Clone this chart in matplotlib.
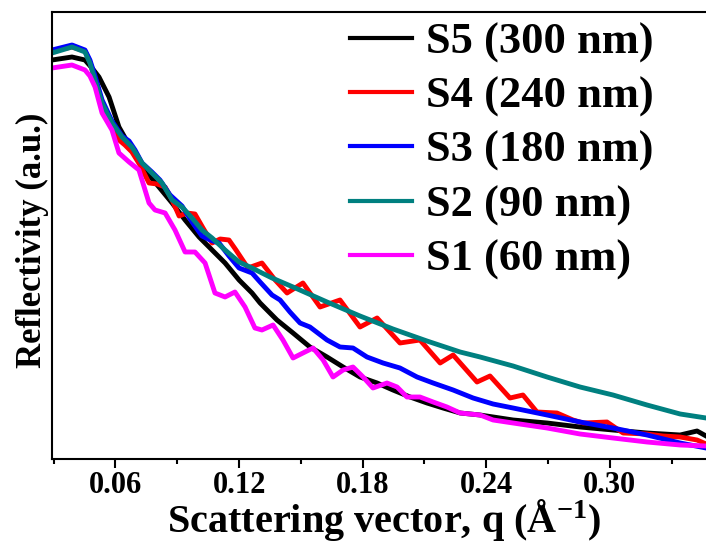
import matplotlib
matplotlib.use('Agg')
import matplotlib.pyplot as plt
from matplotlib.ticker import MultipleLocator

# reflectivity curves, q in 1/Angstrom, intensity in arbitrary units
q_s5 = [0.0292, 0.0389, 0.0452, 0.0486, 0.0520, 0.0569, 0.0617, 0.0680, 0.0743, 0.0811,
        0.0875, 0.0938, 0.1006, 0.1069, 0.1132, 0.1200, 0.1263, 0.1302, 0.1384, 0.1462,
        0.1544, 0.1627, 0.1705, 0.1787, 0.1870, 0.1947, 0.2030, 0.2112, 0.2190, 0.2273,
        0.2370, 0.2530, 0.2695, 0.2855, 0.3015, 0.3180, 0.3341, 0.3423, 0.3467]
r_s5 = [3.99, 4.02, 3.99, 3.91, 3.82, 3.62, 3.32, 3.09, 2.89, 2.72,
        2.56, 2.39, 2.22, 2.09, 1.96, 1.79, 1.66, 1.56, 1.39, 1.26,
        1.12, 1.02, 0.92, 0.82, 0.76, 0.69, 0.62, 0.56, 0.51, 0.46,
        0.44, 0.39, 0.36, 0.32, 0.29, 0.26, 0.24, 0.28, 0.23]

q_s4 = [0.0292, 0.0389, 0.0452, 0.0476, 0.0501, 0.0535, 0.0583, 0.0617, 0.0646, 0.0680,
        0.0719, 0.0763, 0.0802, 0.0841, 0.0875, 0.0909, 0.0947, 0.0986, 0.1025, 0.1069,
        0.1108, 0.1151, 0.1185, 0.1243, 0.1311, 0.1375, 0.1433, 0.1510, 0.1593, 0.1690,
        0.1787, 0.1870, 0.1981, 0.2078, 0.2176, 0.2239, 0.2355, 0.2418, 0.2515, 0.2578,
        0.2646, 0.2743, 0.2821, 0.2870, 0.2986, 0.3064, 0.3180, 0.3258, 0.3341, 0.3423,
        0.3467]
r_s4 = [4.08, 4.12, 4.08, 3.97, 3.79, 3.54, 3.32, 3.19, 3.14, 3.07,
        2.94, 2.76, 2.75, 2.72, 2.59, 2.43, 2.46, 2.45, 2.31, 2.16,
        2.20, 2.19, 2.09, 1.91, 1.96, 1.79, 1.66, 1.76, 1.52, 1.59,
        1.32, 1.41, 1.16, 1.19, 0.96, 1.04, 0.77, 0.83, 0.61, 0.64,
        0.47, 0.46, 0.39, 0.36, 0.37, 0.26, 0.25, 0.23, 0.22, 0.19,
        0.15]

q_s3 = [0.0292, 0.0389, 0.0452, 0.0476, 0.0501, 0.0535, 0.0583, 0.0632, 0.0666, 0.0695,
        0.0729, 0.0777, 0.0816, 0.0865, 0.0923, 0.0972, 0.1020, 0.1059, 0.1103, 0.1151,
        0.1200, 0.1263, 0.1302, 0.1360, 0.1399, 0.1447, 0.1496, 0.1544, 0.1627, 0.1690,
        0.1753, 0.1821, 0.1899, 0.1981, 0.2064, 0.2142, 0.2239, 0.2336, 0.2433, 0.2530,
        0.2695, 0.2855, 0.3015, 0.3180, 0.3341, 0.3467]
r_s3 = [4.09, 4.14, 4.09, 3.99, 3.83, 3.59, 3.38, 3.23, 3.18, 3.09,
        2.96, 2.87, 2.79, 2.64, 2.53, 2.37, 2.23, 2.19, 2.16, 2.03,
        1.91, 1.86, 1.77, 1.64, 1.59, 1.47, 1.36, 1.32, 1.19, 1.12,
        1.11, 1.02, 0.96, 0.91, 0.82, 0.76, 0.69, 0.61, 0.55, 0.51,
        0.44, 0.37, 0.31, 0.24, 0.16, 0.11]

q_s2 = [0.0292, 0.0389, 0.0452, 0.0476, 0.0501, 0.0535, 0.0583, 0.0632, 0.0680, 0.0729,
        0.0777, 0.0826, 0.0875, 0.0923, 0.0972, 0.1020, 0.1069, 0.1132, 0.1200, 0.1263,
        0.1311, 0.1360, 0.1462, 0.1627, 0.1787, 0.1947, 0.2112, 0.2273, 0.2370, 0.2530,
        0.2695, 0.2855, 0.3015, 0.3180, 0.3341, 0.3467]
r_s2 = [4.06, 4.12, 4.07, 3.96, 3.79, 3.56, 3.36, 3.22, 3.12, 2.96,
        2.86, 2.76, 2.59, 2.52, 2.41, 2.29, 2.21, 2.09, 1.97, 1.91,
        1.86, 1.81, 1.72, 1.57, 1.43, 1.30, 1.18, 1.07, 1.02, 0.93,
        0.82, 0.72, 0.64, 0.54, 0.45, 0.41]

q_s1 = [0.0292, 0.0389, 0.0452, 0.0476, 0.0501, 0.0535, 0.0583, 0.0617, 0.0666, 0.0714,
        0.0763, 0.0792, 0.0841, 0.0889, 0.0938, 0.0986, 0.1035, 0.1083, 0.1132, 0.1180,
        0.1229, 0.1277, 0.1311, 0.1365, 0.1413, 0.1462, 0.1510, 0.1559, 0.1608, 0.1656,
        0.1705, 0.1753, 0.1802, 0.1850, 0.1918, 0.1967, 0.2015, 0.2078, 0.2142, 0.2209,
        0.2273, 0.2370, 0.2433, 0.2530, 0.2695, 0.2855, 0.3015, 0.3180, 0.3341, 0.3467]
r_s1 = [3.91, 3.94, 3.89, 3.83, 3.72, 3.46, 3.29, 3.06, 2.97, 2.89,
        2.56, 2.49, 2.46, 2.29, 2.07, 2.07, 1.96, 1.66, 1.62, 1.67,
        1.52, 1.31, 1.29, 1.34, 1.19, 1.01, 1.06, 1.11, 0.99, 0.82,
        0.89, 0.92, 0.82, 0.71, 0.76, 0.72, 0.62, 0.62, 0.57, 0.52,
        0.46, 0.44, 0.39, 0.36, 0.31, 0.25, 0.21, 0.17, 0.14, 0.13]

labels = ['S5 (300 nm)', 'S4 (240 nm)', 'S3 (180 nm)', 'S2 (90 nm)', 'S1 (60 nm)']
colors = ['#000000', '#FF0000', '#0000FF', '#008080', '#FF00FF']

plt.rcParams['font.family'] = 'Liberation Serif'
plt.rcParams['font.weight'] = 'bold'
plt.rcParams['axes.labelweight'] = 'bold'
plt.rcParams['mathtext.fontset'] = 'custom'
plt.rcParams['mathtext.rm'] = 'Liberation Serif:bold'
plt.rcParams['mathtext.bf'] = 'Liberation Serif:bold'
plt.rcParams['mathtext.default'] = 'bf'

fig = plt.figure(figsize=(7.06, 5.42), dpi=100)
ax = fig.add_axes([52/706, 83/542, 664/706, 447/542])

series = [(q_s5, r_s5), (q_s4, r_s4), (q_s3, r_s3), (q_s2, r_s2), (q_s1, r_s1)]
for (q, r), lab, col in zip(series, labels, colors):
    ax.plot(q, r, color=col, lw=3.5, label=lab, solid_joinstyle='round')

ax.set_xlim(0.0292, 0.3515)
ax.set_ylim(0, 4.47)

ax.xaxis.set_major_locator(MultipleLocator(0.06))
ax.xaxis.set_minor_locator(MultipleLocator(0.03))
ax.xaxis.set_major_formatter(plt.FuncFormatter(lambda v, p: f'{v:.2f}'))
ax.tick_params(axis='x', which='major', direction='out', length=6.5, width=1.5,
               labelsize=22, pad=2)
ax.tick_params(axis='x', which='minor', direction='out', length=3.5, width=1.5)
ax.set_yticks([])

for side in ['left', 'bottom', 'top', 'right']:
    ax.spines[side].set_linewidth(1.5)

ax.set_xlabel('Scattering vector, q (Å$^{-1}$)', fontsize=29)
ax.xaxis.set_label_coords(0.5, -0.085)
ax.set_ylabel('Reflectivity (a.u.)', fontsize=25)
ax.yaxis.set_label_coords(-0.004, 0.49)

leg = ax.legend(loc='upper left', bbox_to_anchor=(350/706, 1 - 22/542),
                bbox_transform=fig.transFigure, frameon=False, fontsize=32,
                borderpad=0, handlelength=1.4, handletextpad=0.3,
                labelspacing=0.31, borderaxespad=0)
for line in leg.get_lines():
    line.set_linewidth(3)

fig.savefig('out.png', dpi=100)
